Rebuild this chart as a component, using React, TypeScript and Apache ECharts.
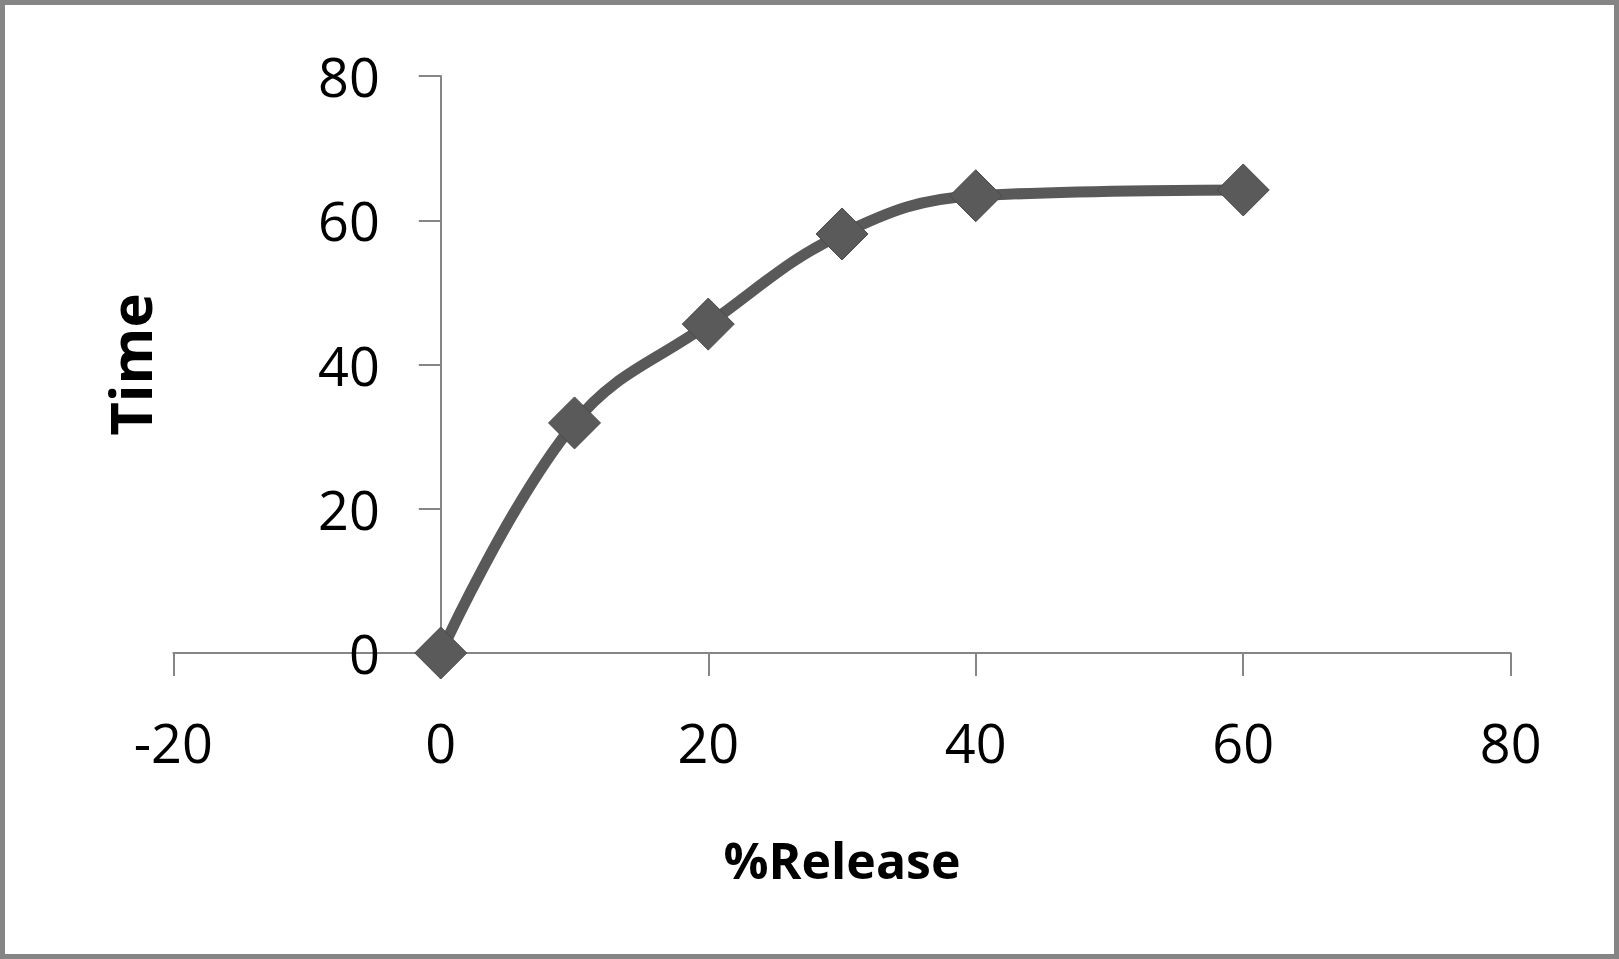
import React, { useEffect, useRef } from "react";
import * as echarts from "echarts";

const releaseX: number[] = [0, 10, 20, 30, 40, 60];
const timeY: number[] = [0, 31.9, 45.6, 58.1, 63.4, 64.2];
const xTicks = { min: -20, max: 80, interval: 20 };
const yTicks = { min: 0, max: 80, interval: 20 };
const xName = "%Release";
const yName = "Time";

export default function App() {
  const ref = useRef<HTMLDivElement>(null);
  useEffect(() => {
    if (!ref.current) return;
    const chart = echarts.init(ref.current, undefined, { renderer: "svg" });
    const font = "'Open Sans', 'Noto Sans', sans-serif";
    const axisColor = "#868686";
    const gridLeft = 173.3;
    const gridRight = 108.3;
    const gridWidth = 1619 - gridLeft - gridRight;
    // position of x = 0 inside the grid, used to place the y axis where x is zero
    const zeroOffset = ((0 - xTicks.min) / (xTicks.max - xTicks.min)) * gridWidth;
    chart.setOption({
      animation: false,
      backgroundColor: "#ffffff",
      graphic: [
        {
          type: "rect",
          shape: { x: 2.5, y: 2.5, width: 1614, height: 954 },
          style: { fill: "none", stroke: "#858585", lineWidth: 5 },
          silent: true,
          z: 100,
        },
      ],
      grid: {
        left: gridLeft,
        right: gridRight,
        top: 76,
        bottom: 306,
        containLabel: false,
        outerBoundsMode: "none",
      },
      xAxis: {
        type: "value",
        min: xTicks.min,
        max: xTicks.max,
        interval: xTicks.interval,
        name: xName,
        nameLocation: "middle",
        nameGap: 182,
        nameMoveOverlap: false,
        nameTextStyle: { fontFamily: font, fontSize: 50, fontWeight: "bold", color: "#000", lineHeight: 50 },
        axisLine: { show: true, onZero: false, lineStyle: { color: axisColor, width: 2 } },
        axisTick: { show: true, length: 23, lineStyle: { color: axisColor, width: 2 } },
        axisLabel: { margin: 62, fontFamily: font, fontSize: 54, color: "#000", lineHeight: 54 },
        splitLine: { show: false },
      },
      yAxis: {
        type: "value",
        min: yTicks.min,
        max: yTicks.max,
        interval: yTicks.interval,
        offset: -zeroOffset,
        name: yName,
        nameLocation: "middle",
        nameGap: 282,
        nameMoveOverlap: false,
        nameTextStyle: { fontFamily: font, fontSize: 58, fontWeight: "bold", color: "#000", lineHeight: 58 },
        axisLine: { show: true, onZero: false, lineStyle: { color: axisColor, width: 2 } },
        axisTick: { show: true, length: 22, lineStyle: { color: axisColor, width: 2 } },
        axisLabel: { margin: 61, fontFamily: font, fontSize: 54, color: "#000", lineHeight: 54 },
        splitLine: { show: false },
      },
      series: [
        {
          type: "line",
          data: releaseX.map((x, i) => [x, timeY[i]]),
          smooth: 0.4,
          symbol: "diamond",
          symbolSize: 52,
          lineStyle: { color: "#595959", width: 11 },
          itemStyle: { color: "#5a5a5a", borderColor: "#4a4a4a", borderWidth: 1 },
          z: 3,
        },
      ],
    });
    return () => chart.dispose();
  }, []);
  return (
    <div
      ref={ref}
      style={{ position: "fixed", left: 0, top: 0, width: 1619, height: 959 }}
    />
  );
}
